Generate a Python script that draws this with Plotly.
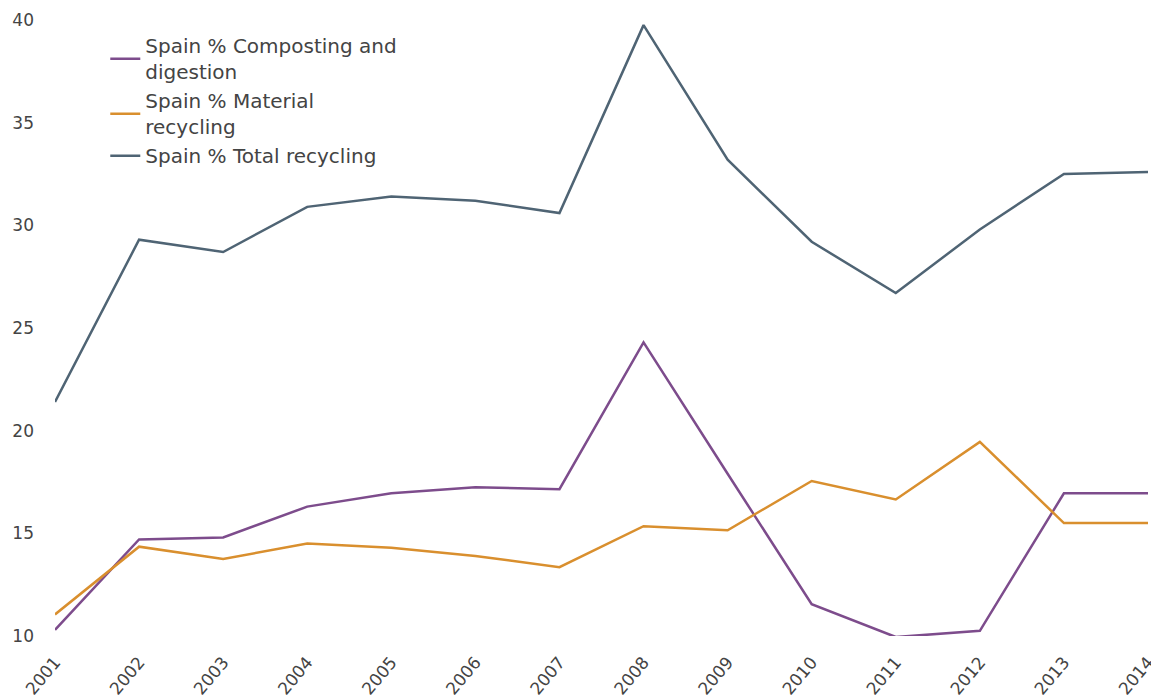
import plotly.graph_objects as go

years = [2001, 2002, 2003, 2004, 2005, 2006, 2007, 2008, 2009, 2010, 2011, 2012, 2013, 2014]
composting = [10.3, 14.7, 14.8, 16.3, 16.95, 17.25, 17.15, 24.3, 17.9, 11.55, 9.95, 10.25, 16.95, 16.95]
material = [11.05, 14.35, 13.75, 14.5, 14.3, 13.9, 13.35, 15.35, 15.15, 17.55, 16.65, 19.45, 15.5, 15.5]
total = [21.4, 29.3, 28.7, 30.9, 31.4, 31.2, 30.6, 39.75, 33.2, 29.2, 26.7, 29.8, 32.5, 32.6]

names = ["Spain % Composting and<br>digestion", "Spain % Material<br>recycling", "Spain % Total recycling"]
colors = ["#7D4C8C", "#D98F2E", "#4F6474"]

fig = go.Figure()
for n, c, v in zip(names, colors, [composting, material, total]):
    fig.add_trace(go.Scatter(x=years, y=v, mode="lines", name=n,
                             line=dict(color=c, width=2.5)))

fig.update_layout(
    width=1159, height=698,
    margin=dict(l=47, r=19, t=12, b=70),
    plot_bgcolor="white", paper_bgcolor="white",
    font=dict(family="DejaVu Sans, Verdana, sans-serif", size=17, color="#444444"),
    showlegend=True,
    legend=dict(x=0.046, y=0.99, xanchor="left", yanchor="top",
                bgcolor="rgba(0,0,0,0)", font=dict(size=20, color="#444444"),
                tracegroupgap=0),
    xaxis=dict(range=[2001, 2014], tickmode="array", tickvals=years,
               ticktext=[str(y) for y in years], tickangle=-50,
               showgrid=False, zeroline=False, showline=False, ticks="",
               ticklabelstandoff=12, automargin=False),
    yaxis=dict(range=[10, 40], tickvals=[10, 15, 20, 25, 30, 35, 40],
               showgrid=False, zeroline=False, showline=False, ticks="",
               ticklabelstandoff=20, automargin=False),
)

fig.write_html("out.html")
